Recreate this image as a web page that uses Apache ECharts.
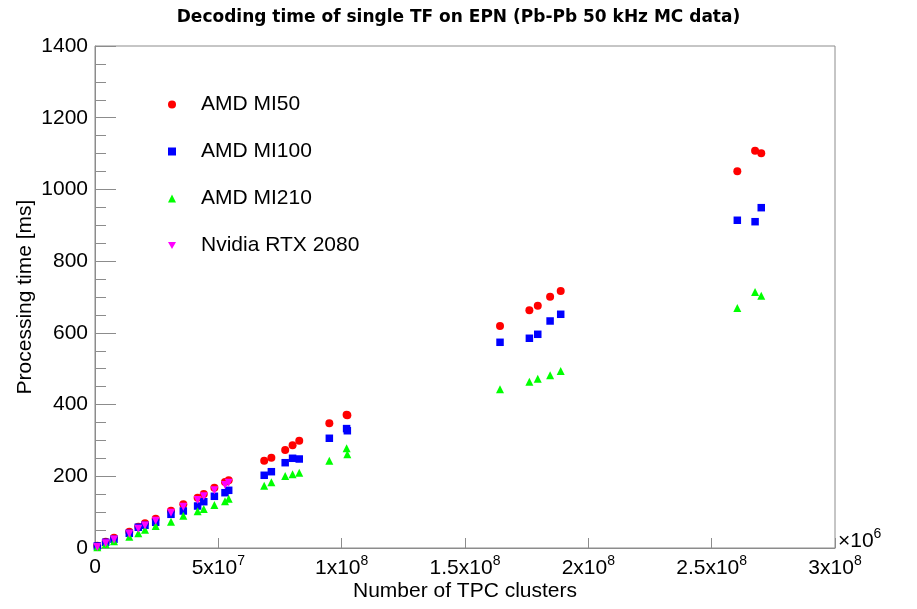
<!DOCTYPE html>
<html>
<head>
<meta charset="utf-8">
<script src="https://cdn.jsdelivr.net/npm/echarts@6/dist/echarts.min.js"></script>
<style>html,body{margin:0;padding:0;background:#fff;}#c{width:917px;height:609px;}</style>
</head>
<body>
<div id="c"></div>
<script>
// Number of TPC clusters (shared by all devices)
var clusters = [0.93e6, 4.34e6, 7.70e6, 13.9e6, 17.55e6, 20.27e6, 24.6e6, 30.8e6, 35.8e6, 41.6e6,
  44.1e6, 48.4e6, 52.7e6, 54.2e6, 68.6e6, 71.5e6, 77.1e6, 80.1e6, 82.8e6, 95.0e6,
  102.0e6, 102.3e6, 164.2e6, 176.1e6, 179.5e6, 184.5e6, 188.8e6, 260.4e6, 267.6e6, 270.1e6];
// Processing time [ms]
var mi50 = [6.4, 17.6, 28.7, 45.5, 59.4, 68.8, 81.7, 104, 121.9, 140.3,
  150.6, 168.1, 184, 188.8, 243.5, 251.8, 273.3, 286.4, 299.2, 347.8,
  371.8, 370, 619.2, 663, 675.8, 700.9, 716.8, 1050.6, 1108, 1100.8];
var mi100 = [5.6, 15.9, 24.3, 41, 57.9, 63.3, 71.7, 94, 103.2, 117.1,
  129.1, 144.2, 154.2, 160.9, 202.8, 212.8, 237.9, 250.2, 248.2, 306,
  333, 327, 573.7, 584.9, 596, 633.1, 651.8, 914, 910, 949.1];
var mi210 = [2, 10.3, 18.7, 31.5, 41, 51, 61.4, 73.4, 90.1, 102.4,
  108.8, 119.9, 130.2, 137.5, 173.8, 183.4, 200.8, 205.5, 210, 243.5,
  278, 261.3, 442.6, 463.8, 472.2, 481.7, 493.7, 669.4, 714, 703.7];
var rtx2080 = [3, 13, 24, 40, 54, 63, 76, 98, 115, 134, 144, 161, 176, 182];

var seriesNames = ['AMD MI50', 'AMD MI100', 'AMD MI210', 'Nvidia RTX 2080'];
var xTickMant = ['0', '5x10', '1x10', '1.5x10', '2x10', '2.5x10', '3x10'];
var xTickExp = ['', '7', '8', '8', '8', '8', '8'];
var yTicks = ['0', '200', '400', '600', '800', '1000', '1200', '1400'];

function pairs(xs, ys) {
  var out = [];
  for (var i = 0; i < ys.length; i++) out.push([xs[i], ys[i]]);
  return out;
}

var FONT = 'Liberation Sans';
var chart = echarts.init(document.getElementById('c'), null, {renderer: 'canvas'});
var axisGray = '#8c8c8c';

var option = {
  backgroundColor: '#ffffff',
  animation: false,
  title: {
    text: 'Decoding time of single TF on EPN (Pb-Pb 50 kHz MC data)',
    left: 'center', top: 4,
    textStyle: {fontFamily: 'DejaVu Sans', fontWeight: 'bold', fontSize: 17, color: '#000'}
  },
  legend: {
    orient: 'vertical', left: 163, top: 88,
    itemWidth: 8, itemHeight: 8, itemGap: 24,
    data: seriesNames,
    textStyle: {fontFamily: FONT, fontSize: 21, color: '#000', lineHeight: 23, padding: [0, 0, 0, 20]}
  },
  grid: {left: 95, top: 46, width: 740, height: 502, show: true, borderColor: axisGray, borderWidth: 1, backgroundColor: 'transparent'},
  xAxis: {
    type: 'value', min: 0, max: 3e8, interval: 5e7,
    name: 'Number of TPC clusters', nameLocation: 'middle', nameGap: 33, nameMoveOverlap: false,
    nameTextStyle: {fontFamily: FONT, fontSize: 21, color: '#000'},
    axisLine: {show: true, lineStyle: {color: axisGray, width: 1}},
    axisTick: {show: true, inside: true, length: 10, lineStyle: {color: axisGray}},
    splitLine: {show: false},
    axisLabel: {
      margin: 6,
      formatter: function (v) {
        var i = Math.round(v / 5e7);
        if (xTickExp[i] === '') return '{m|' + xTickMant[i] + '}';
        return '{m|' + xTickMant[i] + '}{e|' + xTickExp[i] + '}';
      },
      rich: {
        m: {fontFamily: FONT, fontSize: 21, color: '#000', lineHeight: 26},
        e: {fontFamily: FONT, fontSize: 14, color: '#000', padding: [0, 0, 14, 0]}
      }
    }
  },
  yAxis: {
    type: 'value', min: 0, max: 1400, interval: 200,
    name: 'Processing time [ms]', nameLocation: 'middle', nameGap: 59, nameMoveOverlap: false,
    nameTextStyle: {fontFamily: FONT, fontSize: 21, color: '#000'},
    axisLine: {show: true, lineStyle: {color: axisGray, width: 1}},
    axisTick: {show: true, inside: true, length: 21, lineStyle: {color: axisGray}},
    minorTick: {show: true, splitNumber: 4, length: 11, lineStyle: {color: axisGray}},
    splitLine: {show: false},
    axisLabel: {
      fontFamily: FONT, fontSize: 21, color: '#000', margin: 7,
      formatter: function (v) { return yTicks[Math.round(v / 200)]; }
    }
  },
  graphic: [{
    type: 'text', left: 838, top: 527,
    style: {
      text: '{a|×10}{b|6}',
      rich: {
        a: {fontFamily: FONT, fontSize: 21, fill: '#000', lineHeight: 24},
        b: {fontFamily: FONT, fontSize: 14, fill: '#000', padding: [0, 0, 14, 0]}
      }
    }
  }],
  series: [
    {name: seriesNames[0], type: 'scatter', symbol: 'circle', symbolSize: 8,
      itemStyle: {color: '#ff0000', opacity: 1}, data: pairs(clusters, mi50)},
    {name: seriesNames[1], type: 'scatter', symbol: 'rect', symbolSize: 7.5,
      itemStyle: {color: '#0000ff', opacity: 1}, data: pairs(clusters, mi100)},
    {name: seriesNames[2], type: 'scatter', symbol: 'triangle', symbolSize: 8,
      itemStyle: {color: '#00ff00', opacity: 1}, data: pairs(clusters, mi210)},
    {name: seriesNames[3], type: 'scatter', symbol: 'path://M0,0L10,0L5,8.66Z', symbolSize: 8,
      itemStyle: {color: '#ff00ff', opacity: 1}, data: pairs(clusters, rtx2080)}
  ]
};
chart.setOption(option);
</script>
</body>
</html>
